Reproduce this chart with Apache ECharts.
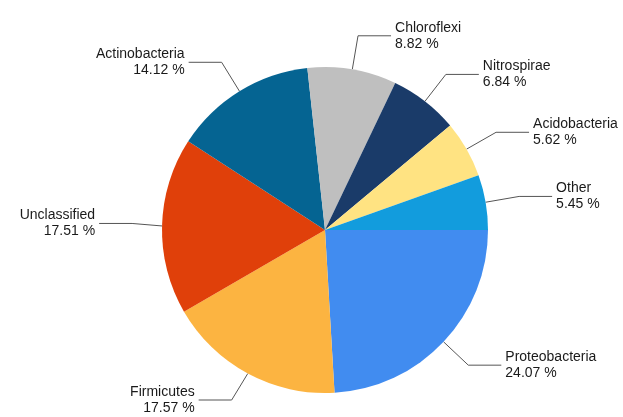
<!DOCTYPE html>
<html>
<head>
<meta charset="utf-8">
<script src="https://cdn.jsdelivr.net/npm/echarts@6/dist/echarts.min.js"></script>
<style>
  html, body { margin: 0; padding: 0; background: #fff; }
  #chart { width: 623px; height: 417px; }
</style>
</head>
<body>
<div id="chart"></div>
<script>
const names = ['Proteobacteria', 'Firmicutes', 'Unclassified', 'Actinobacteria',
  'Chloroflexi', 'Nitrospirae', 'Acidobacteria', 'Other'];
const shares = [24.07, 17.57, 17.51, 14.12, 8.82, 6.84, 5.62, 5.45];
const colors = ['#418CF0', '#FCB441', '#E0400A', '#056492',
  '#BFBFBF', '#1A3B69', '#FFE382', '#129CDD'];

const chart = echarts.init(document.getElementById('chart'));

const data = names.map((n, i) => ({
  name: n,
  value: shares[i],
  itemStyle: { color: colors[i] }
}));

chart.setOption({
  animation: false,
  series: [{
    type: 'pie',
    center: [325, 230],
    radius: 163,
    startAngle: 0,
    clockwise: true,
    data: data,
    itemStyle: { borderWidth: 0 },
    label: {
      show: true,
      position: 'outside',
      fontFamily: 'Liberation Sans, Arial, sans-serif',
      fontSize: 14,
      lineHeight: 16,
      color: '#1a1a1a',
      overflow: 'none',
      distanceToLabelLine: 4,
      formatter: p => p.name + '\n' + p.value.toFixed(2) + ' %'
    },
    labelLine: {
      show: true,
      length: 34,
      length2: 33,
      lineStyle: { color: '#555', width: 1 }
    },
    emphasis: { disabled: true }
  }]
});
</script>
</body>
</html>
